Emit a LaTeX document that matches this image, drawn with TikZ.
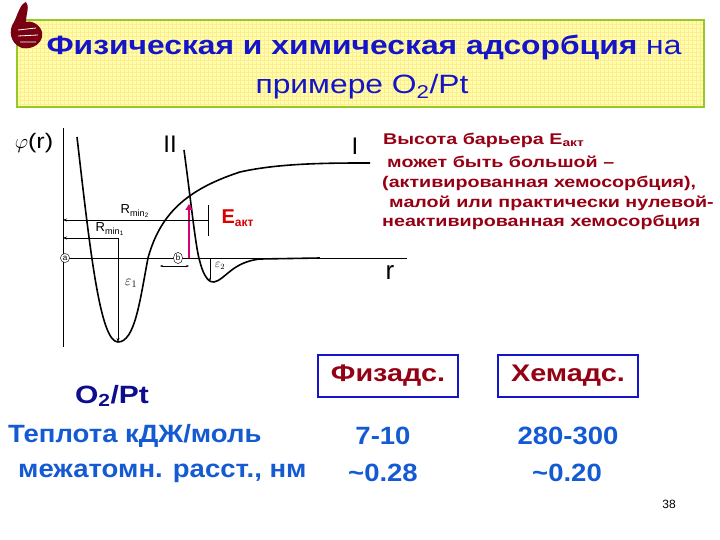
\documentclass[tikz,border=0pt]{standalone}
\usepackage{fontspec}
\setmainfont{Liberation Sans}
\newfontfamily\wideA[FakeStretch=1.2]{Liberation Sans}
\newfontfamily\wideB[FakeStretch=1.27]{Liberation Sans}
\newfontfamily\wideC[FakeStretch=1.1]{Liberation Sans}
\usetikzlibrary{arrows.meta}
\definecolor{ttl}{RGB}{20,20,200}
\definecolor{drd}{RGB}{150,0,20}
\definecolor{bblue}{RGB}{20,90,210}
\definecolor{gborder}{RGB}{150,200,40}
\definecolor{yfill}{RGB}{255,255,170}
\definecolor{mag}{RGB}{220,0,110}
\tikzset{
  curve/.style={line width=1.6pt},
  thin line/.style={line width=0.6pt},
  redtxt/.style={text=drd,font=\wideB\bfseries\fontsize{15.5}{17}\selectfont,anchor=west,inner sep=0},
  rowtxt/.style={text=bblue,font=\wideC\bfseries\fontsize{25}{27}\selectfont,inner sep=0},
  hdrbox/.style={draw=ttl,line width=1.5pt,text=drd,font=\wideA\bfseries\fontsize{24}{26}\selectfont,minimum width=140pt,minimum height=42pt},
  lbl/.style={font=\fontsize{11}{12}\selectfont,inner sep=0},
  circ/.style={draw,ellipse,inner sep=1pt,font=\fontsize{8}{9}\selectfont,fill=white}
}
\usetikzlibrary{shapes.geometric}
\begin{document}
\begin{tikzpicture}[x=1pt,y=-1pt]
\useasboundingbox (0,0) rectangle (720,540);
\fill[white] (0,0) rectangle (720,540);
% title box
\fill[yfill] (17,20) rectangle (704,107);
\draw[yellow!70!orange!40,step=4pt,line width=0.2pt] (17,20) grid (704,107);
\draw[gborder,line width=2.5pt] (17,20) rectangle (704,107);
\node[text=ttl,font=\wideA\fontsize{26.5}{29}\selectfont] (t1) at (364,48) {\textbf{Физическая и химическая адсорбция} на};
\node[text=ttl,font=\wideA\fontsize{26.5}{29}\selectfont] (t2) at (362,87) {примере O\textsubscript{2}/Pt};
% thumb icon
\fill[drd!80!black] (14,22) .. controls (8,30) and (10,44) .. (22,48) .. controls (34,50) and (44,42) .. (42,32) .. controls (40,24) and (30,20) .. (26,22) .. controls (26,14) and (30,6) .. (26,2) .. controls (20,4) and (18,14) .. (14,22) -- cycle;
\draw[white,line width=0.8pt] (18,30) -- (36,28) (18,36) -- (38,35) (20,42) -- (36,42);
% axes
\coordinate (ytop) at (63,128);
\coordinate (ybot) at (63,347);
\coordinate (xl) at (63,258);
\coordinate (xr) at (407,258);
\draw[thin line] (ytop) -- (ybot);
\draw[thin line] (xl) -- (xr);
\node[font=\wideA\fontsize{21}{22}\selectfont] (phi) at (34,143) {$\varphi$(r)};
\node[font=\fontsize{24}{26}\selectfont] (II) at (170,144) {II};
\node[font=\fontsize{24}{26}\selectfont] (I) at (355,146) {I};
\node[font=\fontsize{26}{28}\selectfont] (r) at (390,273) {r};
% curve II (chemisorption)
\draw[curve] (77,137) .. controls (90,250) and (100,342) .. (118,342)
  .. controls (135,342) and (140,300) .. (148,258)
  .. controls (160,215) and (185,190) .. (240,172)
  .. controls (280,163) and (330,163) .. (370,163);
% curve I (physisorption)
\draw[curve] (184,150) .. controls (192,210) and (196,250) .. (200,262)
  .. controls (204,278) and (210,283) .. (214,282)
  .. controls (225,280) and (232,262) .. (260,259) -- (320,258);
% magenta arrow
\coordinate (ea0) at (189,258);
\coordinate (ea1) at (189,204);
\draw[mag,line width=2.5pt,-{Triangle[length=6pt,width=7pt]}] (ea0) -- (ea1);
\node[text=red!85!black,font=\bfseries\fontsize{20}{21}\selectfont,anchor=west] (Ea) at (218,218) {E\textsubscript{\fontsize{12}{13}\selectfont акт}};
% Rmin lines
\coordinate (r2a) at (63,220); \coordinate (r2b) at (208,220);
\draw[thin line,{Stealth[length=4pt]}-] (r2a) -- (r2b);
\draw[thin line] (208,205) -- (208,236);
\node[lbl,font=\fontsize{13}{14}\selectfont] (R2) at (135,211) {R\textsubscript{min\textsubscript{2}}};
\coordinate (r1a) at (63,238); \coordinate (r1b) at (118,238);
\draw[thin line,{Stealth[length=4pt]}-] (r1a) -- (r1b);
\node[lbl,font=\fontsize{13}{14}\selectfont] (R1) at (110,229) {R\textsubscript{min\textsubscript{1}}};
\coordinate (e1b) at (118,342);
\draw[thin line,-{Stealth[length=4pt]}] (r1b) -- (e1b);
\node[lbl,font=\fontsize{14}{15}\selectfont] (e1) at (131,283) {$\varepsilon_1$};
\node[circ] (a) at (65,258) {a};
\node[circ] (b) at (178,258) {b};
\coordinate (bl) at (160,266); \coordinate (br) at (189,266);
\draw[thin line,{Stealth[length=3pt]}-{Stealth[length=3pt]}] (bl) -- (br);
\coordinate (e2a) at (210,258); \coordinate (e2b) at (210,281);
\draw[thin line,-{Stealth[length=3pt]}] (e2a) -- (e2b);
\node[lbl,font=\fontsize{12}{13}\selectfont] (e2) at (220,266) {$\varepsilon_2$};
% right text
\node[redtxt] (s1) at (383,140) {Высота барьера E\textsubscript{акт}};
\node[redtxt] (s2) at (387,162) {может быть большой –};
\node[redtxt] (s3) at (382,183) {(активированная хемосорбция),};
\node[redtxt] (s4) at (389,203) {малой или практически нулевой-};
\node[redtxt] (s5) at (382,222) {неактивированная хемосорбция};
% table
\node[text=ttl!70!black,font=\wideA\bfseries\fontsize{25}{27}\selectfont] (o2) at (112,396) {O\textsubscript{2}/Pt};
\node[hdrbox] (h1) at (388,376) {Физадс.};
\node[hdrbox] (h2) at (568,376) {Хемадс.};
\node[rowtxt,anchor=west] (q) at (8,436) {Теплота кДЖ/моль};
\node[rowtxt] (q1) at (383,436) {7-10};
\node[rowtxt] (q2) at (568,436) {280-300};
\node[rowtxt,anchor=west] (d) at (18,473) {межатомн. расст., нм};
\node[rowtxt] (d1) at (383,473) {\textasciitilde0.28};
\node[rowtxt] (d2) at (567,473) {\textasciitilde0.20};
\node[font=\fontsize{12}{13}\selectfont] (pg) at (669,504) {38};
\end{tikzpicture}
\end{document}
